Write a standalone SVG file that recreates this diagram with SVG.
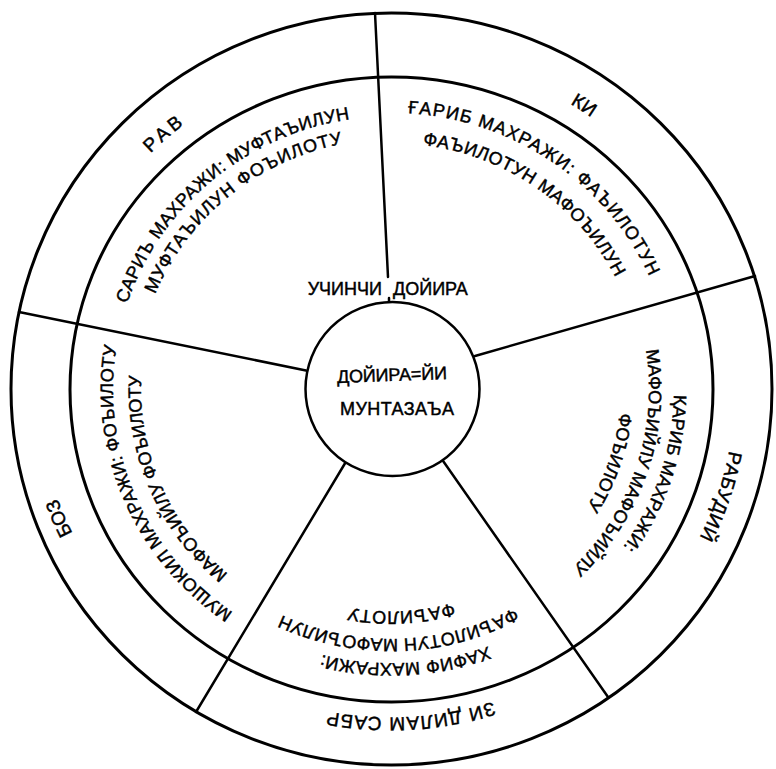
<svg xmlns="http://www.w3.org/2000/svg" xmlns:xlink="http://www.w3.org/1999/xlink" width="776" height="769" viewBox="0 0 776 769">
  <style>
    .ring { fill: none; stroke: #000; stroke-width: 3; }
    .spoke { fill: none; stroke: #000; stroke-width: 2.5; stroke-linecap: round; }
    .t { font-family: "Liberation Sans", "DejaVu Sans", sans-serif; font-size: 18px; fill: #000; stroke: #000; stroke-width: 0.45; }
    .lbl { font-family: "Liberation Sans", "DejaVu Sans", sans-serif; font-size: 19px; fill: #000; stroke: #000; stroke-width: 0.45; }
  </style>
  <defs>
    <!-- clockwise arcs around the centre (391,389); text sits on them with tops facing outward -->
    <path id="pTL1" d="M113.5,372.9 A280,273.3 0 0 1 420.1,117.2"/>
    <path id="pTL2" d="M138.2,356.5 A256,249.9 0 0 1 406.6,139.6"/>
    <path id="pTR1" d="M335.5,118.1 A283,276.2 0 0 1 670.5,345.8"/>
    <path id="pTR2" d="M359.5,144.9 A252,246 0 0 1 637.3,336.8"/>
    <path id="pR1" d="M666.2,324.5 A283,276.2 0 0 1 574.8,599.0"/>
    <path id="pR2" d="M628.5,290.6 A258,251.8 0 0 1 522.3,605.7"/>
    <path id="pR3" d="M618.5,356.2 A230,224.5 0 0 1 550.2,551.0"/>
    <path id="pB1" d="M553.2,613.0 A281,274.3 0 0 1 253.7,628.3"/>
    <path id="pB2" d="M567.5,570.0 A256,249.9 0 0 1 226.4,580.4"/>
    <path id="pB3" d="M507.6,580.2 A228,222.5 0 0 1 292.7,589.7"/>
    <path id="pL1" d="M294.3,643.4 A278,271.3 0 0 1 136.4,280.2"/>
    <path id="pL2" d="M278.3,606.8 A250,244 0 0 1 152.2,316.8"/>
    <path id="pRAV" d="M92.8,229.7 A342,333.8 0 0 1 267.5,77.9"/>
    <path id="pKI" d="M470.9,64.5 A345,336.7 0 0 1 668.6,190.8"/>
    <path id="pRAB" d="M734.9,379.6 A344,335.7 0 0 1 660.6,597.5"/>
    <path id="pZI" d="M595.7,649.3 A337,328.9 0 0 1 219.4,671.9"/>
    <path id="pBOZ" d="M250.0,693.0 A340,331.8 0 0 1 62.0,260.0"/>
  </defs>

  <rect width="776" height="769" fill="#fff"/>

  <!-- outer boundary and the ring dividing metre names from their feet -->
  <g id="rings">
    <ellipse class="ring" cx="391.5" cy="389" rx="380.5" ry="376"/>
    <ellipse class="ring" cx="391.5" cy="389.5" rx="321.5" ry="312.5"/>
  </g>

  <!-- spokes between the five sectors -->
  <g id="connectors">
    <line class="spoke" x1="375" y1="13" x2="388" y2="277"/>
    <line class="spoke" x1="389" y1="298" x2="389" y2="304"/>
    <line class="spoke" x1="475" y1="356" x2="755" y2="276"/>
    <line class="spoke" x1="441" y1="458" x2="608" y2="697"/>
    <line class="spoke" x1="347" y1="460" x2="196" y2="712"/>
    <line class="spoke" x1="306" y1="370.5" x2="19" y2="312"/>
  </g>

  <!-- hub -->
  <g id="hub">
    <circle cx="392.5" cy="389" r="87" fill="#fff" stroke="#000" stroke-width="2.5"/>
    <text class="t"><tspan x="382" y="295" text-anchor="end">УЧИНЧИ</tspan><tspan x="393" y="295" text-anchor="start">ДОЙИРА</tspan></text>
    <text class="t" x="392" y="381" text-anchor="middle" textLength="110" lengthAdjust="spacing" transform="rotate(-2 392 376)">ДОЙИРА=ЙИ</text>
    <text class="t" x="397" y="415" text-anchor="middle" textLength="114" lengthAdjust="spacing">МУНТАЗАЪА</text>
  </g>

  <!-- sector: РАВ -->
  <g id="sector-rav">
    <text class="lbl"><textPath xlink:href="#pRAV" href="#pRAV" startOffset="50%" text-anchor="middle" textLength="44" lengthAdjust="spacing">РАВ</textPath></text>
    <text class="t"><textPath xlink:href="#pTL1" href="#pTL1" startOffset="50%" text-anchor="middle" textLength="304" lengthAdjust="spacing">САРИЪ МАХРАЖИ: МУФТАЪИЛУН</textPath></text>
    <text class="t"><textPath xlink:href="#pTL2" href="#pTL2" startOffset="50%" text-anchor="middle" textLength="250" lengthAdjust="spacing">МУФТАЪИЛУН ФОЪИЛОТУ</textPath></text>
  </g>

  <!-- sector: КИ -->
  <g id="sector-ki">
    <text class="lbl"><textPath xlink:href="#pKI" href="#pKI" startOffset="50%" text-anchor="middle">КИ</textPath></text>
    <text class="t"><textPath xlink:href="#pTR1" href="#pTR1" startOffset="50%" text-anchor="middle" textLength="306" lengthAdjust="spacing">ҒАРИБ МАХРАЖИ: ФАЪИЛОТУН</textPath></text>
    <text class="t"><textPath xlink:href="#pTR2" href="#pTR2" startOffset="50%" text-anchor="middle" textLength="243" lengthAdjust="spacing">ФАЪИЛОТУН МАФОЪИЛУН</textPath></text>
  </g>

  <!-- sector: РАБУДИЙ -->
  <g id="sector-rabudiy">
    <text class="lbl"><textPath xlink:href="#pRAB" href="#pRAB" startOffset="50%" text-anchor="middle" textLength="92" lengthAdjust="spacing">РАБУДИЙ</textPath></text>
    <text class="t"><textPath xlink:href="#pR1" href="#pR1" startOffset="50%" text-anchor="middle" textLength="163" lengthAdjust="spacing">ҚАРИБ МАХРАЖИ:</textPath></text>
    <text class="t"><textPath xlink:href="#pR2" href="#pR2" startOffset="50%" text-anchor="middle" textLength="240" lengthAdjust="spacing">МАФОЪИЙЛУ МАФОЪИЙЛУ</textPath></text>
    <text class="t"><textPath xlink:href="#pR3" href="#pR3" startOffset="50%" text-anchor="middle" textLength="101" lengthAdjust="spacing">ФОЪИЛОТУ</textPath></text>
  </g>

  <!-- sector: ЗИ ДИЛАМ САБР -->
  <g id="sector-zi">
    <text class="lbl"><textPath xlink:href="#pZI" href="#pZI" startOffset="50%" text-anchor="middle" textLength="167" lengthAdjust="spacing">ЗИ ДИЛАМ САБР</textPath></text>
    <text class="t"><textPath xlink:href="#pB1" href="#pB1" startOffset="50%" text-anchor="middle" textLength="169" lengthAdjust="spacing">ХАФИФ МАХРАЖИ:</textPath></text>
    <text class="t"><textPath xlink:href="#pB2" href="#pB2" startOffset="50%" text-anchor="middle" textLength="241" lengthAdjust="spacing">ФАЪИЛОТУН МАФОЪИЛУН</textPath></text>
    <text class="t"><textPath xlink:href="#pB3" href="#pB3" startOffset="50%" text-anchor="middle" textLength="105" lengthAdjust="spacing">ФАЪИЛОТУ</textPath></text>
  </g>

  <!-- sector: БОЗ -->
  <g id="sector-boz">
    <text class="lbl"><textPath xlink:href="#pBOZ" href="#pBOZ" startOffset="50%" text-anchor="middle" textLength="38" lengthAdjust="spacing">БОЗ</textPath></text>
    <text class="t"><textPath xlink:href="#pL1" href="#pL1" startOffset="50%" text-anchor="middle" textLength="307" lengthAdjust="spacing">МУШОКИЛ МАХРАЖИ: ФОЪИЛОТУ</textPath></text>
    <text class="t"><textPath xlink:href="#pL2" href="#pL2" startOffset="50%" text-anchor="middle" textLength="224" lengthAdjust="spacing">МАФОЪИЙЛУ ФОЪИЛОТУ</textPath></text>
  </g>
</svg>
